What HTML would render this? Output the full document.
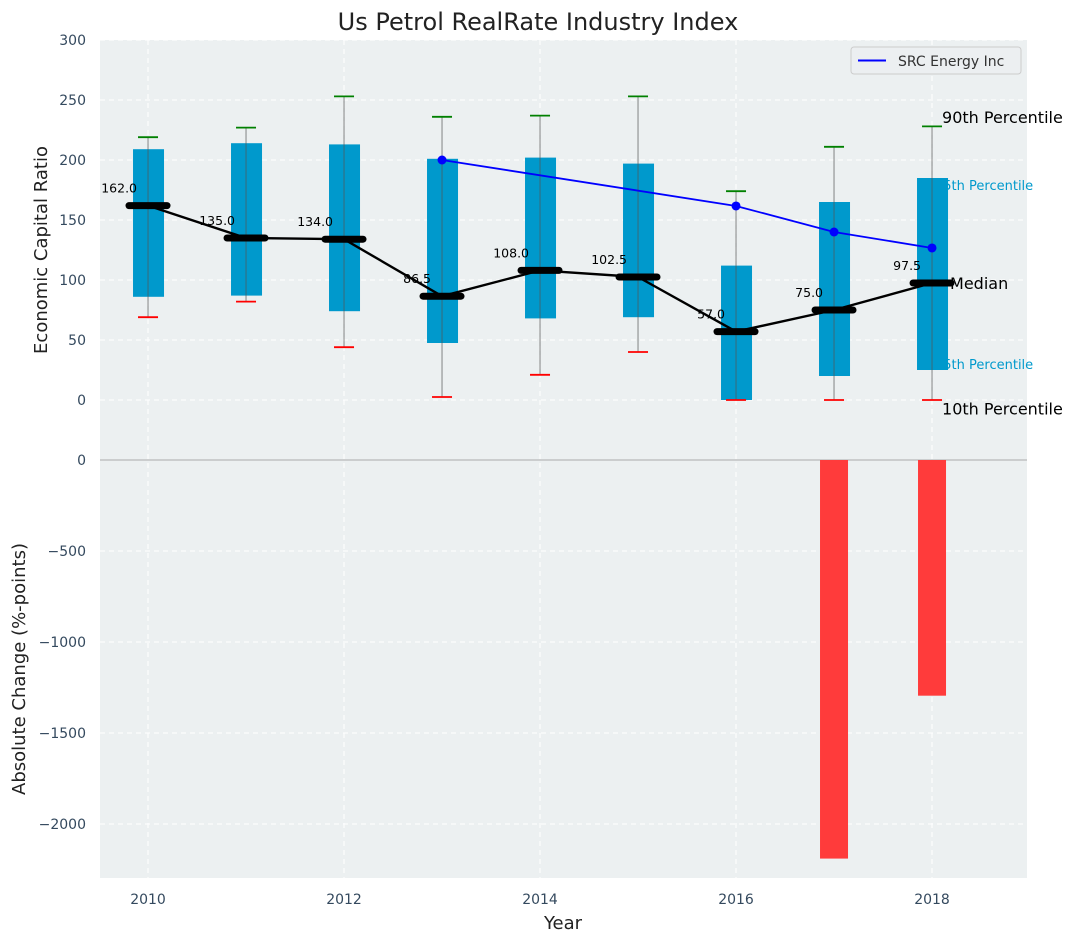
<!DOCTYPE html>
<html><head><meta charset="utf-8"><style>
body{margin:0;background:#fff;font-family:"Liberation Sans","DejaVu Sans",sans-serif}
svg text{font-family:"DejaVu Sans","Liberation Sans",sans-serif}
</style></head><body>
<svg id="c" width="1077" height="942" xmlns="http://www.w3.org/2000/svg"></svg>
<script>
const years=[2010,2011,2012,2013,2014,2015,2016,2017,2018];
const q25=[86,87,74,47.5,68,69,0,20,25];
const q75=[209,214,213,201,202,197,112,165,185];
const p10=[69,82,44,2.5,21,40,0,0,0];
const p90=[219,227,253,236,237,253,174,211,228];
const medians=[162,135,134,86.5,108,102.5,57,75,97.5];
const srcYears=[2013,2016,2017,2018];
const srcVals=[200,161.7,140,126.7];
const barYears=[2017,2018];
const barVals=[-2190,-1295];
const topTicks=[0,50,100,150,200,250,300];
const botTicks=[-2000,-1500,-1000,-500,0];
const xTicks=[2010,2012,2014,2016,2018];

const NS="http://www.w3.org/2000/svg";
const svg=document.getElementById('c');
function el(t,a,p){const e=document.createElementNS(NS,t);for(const k in a)e.setAttribute(k,a[k]);(p||svg).appendChild(e);return e;}
const X=v=>100+(v-2009.51)*98;
const YT=v=>400-v*1.2;
const YB=v=>460-v*0.182;
const L=100,R=1027;
let g=el('rect',{x:L,y:40,width:R-L,height:420,fill:'#ecf0f1'});
g=el('rect',{x:L,y:460,width:R-L,height:418,fill:'#ecf0f1'});
xTicks.forEach(t=>{el('line',{x1:X(t),x2:X(t),y1:40,y2:878,stroke:'#fff','stroke-dasharray':'5,4','stroke-width':1});});
topTicks.forEach(t=>{el('line',{x1:L,x2:R,y1:YT(t),y2:YT(t),stroke:'#fff','stroke-dasharray':'5,4'});
 const tx=el('text',{x:86,y:YT(t)+5,'text-anchor':'end','font-size':14,fill:'#34495e'});tx.textContent=t;});
botTicks.forEach(t=>{el('line',{x1:L,x2:R,y1:YB(t),y2:YB(t),stroke:'#fff','stroke-dasharray':'5,4'});
 const tx=el('text',{x:86,y:YB(t)+5,'text-anchor':'end','font-size':14,fill:'#34495e'});tx.textContent=(t<0?'\u2212'+(-t):t);});
el('line',{x1:L,x2:R,y1:460,y2:460,stroke:'#aaa','stroke-width':1});
xTicks.forEach(t=>{const tx=el('text',{x:X(t),y:904,'text-anchor':'middle','font-size':14,fill:'#34495e'});tx.textContent=t;});
function txt(x,y,s,sz,col,name,anchor){const t=el('text',{x:x,y:y,'font-size':sz,fill:col,'text-anchor':anchor||'start'});t.textContent=s;return t;}
const lx=X(2018);
txt(lx+3,YT(185)+12,'75th Percentile',13,'#0099cc','q75-annotation');
txt(lx+3,YT(25)-1,'25th Percentile',13,'#0099cc','q25-annotation');
years.forEach((y,i)=>{const x=X(y);
 const b=el('rect',{x:x-15,y:YT(q75[i]),width:31,height:YT(q25[i])-YT(q75[i]),fill:'#0099cc'});
 const w=el('line',{x1:x,x2:x,y1:YT(p10[i]),y2:YT(p90[i]),stroke:'#555','stroke-width':1,opacity:0.7});
 el('line',{x1:x-10,x2:x+10,y1:YT(p90[i]),y2:YT(p90[i]),stroke:'green','stroke-width':1.8});
 el('line',{x1:x-10,x2:x+10,y1:YT(p10[i]),y2:YT(p10[i]),stroke:'red','stroke-width':1.8});
});
let pts=srcYears.map((y,i)=>X(y)+','+YT(srcVals[i])).join(' ');
g=el('polyline',{points:pts,fill:'none',stroke:'blue','stroke-width':1.8});
srcYears.forEach((y,i)=>{const c=el('circle',{cx:X(y),cy:YT(srcVals[i]),r:4.5,fill:'blue'});});
pts=years.map((y,i)=>X(y)+','+YT(medians[i])).join(' ');
g=el('polyline',{points:pts,fill:'none',stroke:'#000','stroke-width':2.4});
years.forEach((y,i)=>{const x=X(y),yy=YT(medians[i]);
 const m=el('line',{x1:x-19,x2:x+19,y1:yy,y2:yy,stroke:'#000','stroke-width':7,'stroke-linecap':'round'});
 txt(x-11,yy-13,medians[i].toFixed(1),12.5,'#000','median-label','end');
});
barYears.forEach((y,i)=>{const b=el('rect',{x:X(y)-14,y:460,width:28,height:YB(barVals[i])-460,fill:'#ff3b3b'});});
txt(lx+10,YT(235)+5,'90th Percentile',16,'#000','p90-annotation');
txt(lx+18,YT(97.5)+6,'Median',16,'#000','median-annotation');
txt(lx+10,YT(-7)+6,'10th Percentile',16,'#000','p10-annotation');
g=el('rect',{x:851,y:47,width:170,height:27,rx:3,fill:'#eceff1',stroke:'#ccc'});
el('line',{x1:858,x2:886,y1:60.5,y2:60.5,stroke:'blue','stroke-width':2});
txt(898,66,'SRC Energy Inc',14,'#333','legend-entry');
txt(538,30,'Us Petrol RealRate Industry Index',24,'#222','chart-title','middle');
txt(563,929,'Year',18,'#222','x-axis-title','middle');
let t=txt(0,0,'Economic Capital Ratio',18,'#222','y-axis-title','middle');t.setAttribute('transform','translate(47,250) rotate(-90)');
t=txt(0,0,'Absolute Change (%-points)',18,'#222','y2-axis-title','middle');t.setAttribute('transform','translate(25,669) rotate(-90)');
</script>
</body></html>
